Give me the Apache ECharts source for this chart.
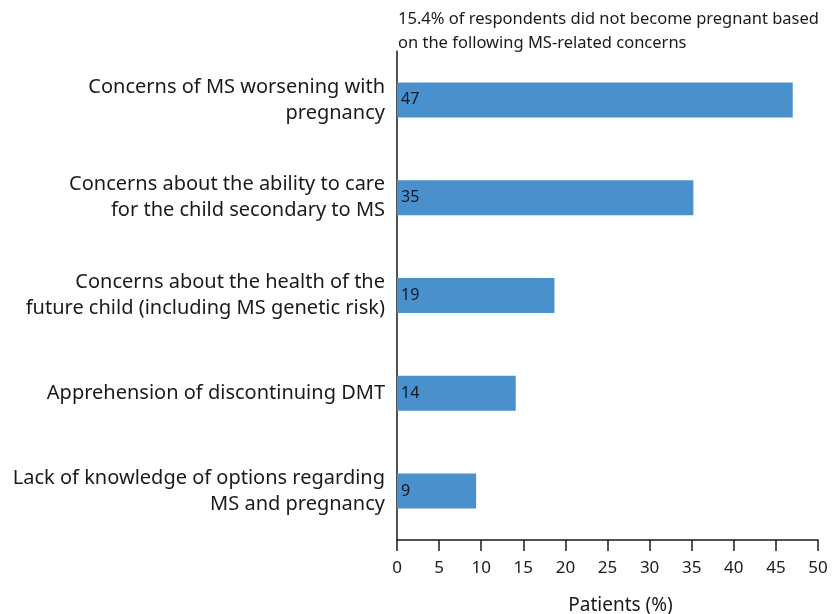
<!DOCTYPE html>
<html>
<head>
<meta charset="utf-8">
<script src="https://cdn.jsdelivr.net/npm/echarts@6/dist/echarts.min.js"></script>
<style>
html,body{margin:0;padding:0;background:#fff;}
#chart{width:833px;height:614px;}
</style>
</head>
<body>
<div id="chart"></div>
<script>
const categories = [
  "Concerns of MS worsening with\npregnancy",
  "Concerns about the ability to care\nfor the child secondary to MS",
  "Concerns about the health of the\nfuture child (including MS genetic risk)",
  "Apprehension of discontinuing DMT",
  "Lack of knowledge of options regarding\nMS and pregnancy"
];
const values = [47.0, 35.2, 18.7, 14.1, 9.4];
const labels = ["47", "35", "19", "14", "9"];
const xTicks = [0, 5, 10, 15, 20, 25, 30, 35, 40, 45, 50];
const headerText = "15.4% of respondents did not become pregnant based\non the following MS-related concerns";
const axisTitle = "Patients (%)";

const FONT = "Noto Sans";
const chart = echarts.init(document.getElementById('chart'), null, {renderer: 'canvas'});
chart.setOption({
  animation: false,
  backgroundColor: '#ffffff',
  title: {
    text: headerText,
    left: 393,
    top: 2,
    textStyle: {fontFamily: FONT, fontSize: 16.5, fontWeight: 'normal', color: '#1a1a1a', lineHeight: 24}
  },
  grid: {left: 397, right: 15, top: 51, bottom: 74, containLabel: false, outerBoundsMode: 'none'},
  xAxis: {
    type: 'value',
    min: xTicks[0],
    max: xTicks[xTicks.length - 1],
    interval: 5,
    name: axisTitle,
    nameLocation: 'middle',
    nameGap: 56,
    nameTextStyle: {fontFamily: FONT, fontSize: 19, color: '#1a1a1a', padding: [0, 0, 0, 26]},
    axisLine: {show: true, lineStyle: {color: '#1a1a1a', width: 1.5}},
    axisTick: {show: true, length: 11, lineStyle: {color: '#1a1a1a', width: 1.5}},
    axisLabel: {fontFamily: FONT, fontSize: 17, color: '#1a1a1a', margin: 20},
    splitLine: {show: false}
  },
  yAxis: {
    type: 'category',
    data: categories,
    inverse: true,
    axisLine: {show: true, lineStyle: {color: '#1a1a1a', width: 1.5}},
    axisTick: {show: false},
    axisLabel: {fontFamily: FONT, fontSize: 20, color: '#1a1a1a', margin: 12, lineHeight: 26, align: 'right'}
  },
  series: [{
    type: 'bar',
    data: values,
    barWidth: 35,
    itemStyle: {color: '#4a90cd'},
    label: {
      show: true,
      position: 'insideLeft',
      distance: 4,
      fontFamily: FONT,
      fontSize: 16,
      color: '#111a26',
      formatter: p => labels[p.dataIndex]
    }
  }]
});
</script>
</body>
</html>
